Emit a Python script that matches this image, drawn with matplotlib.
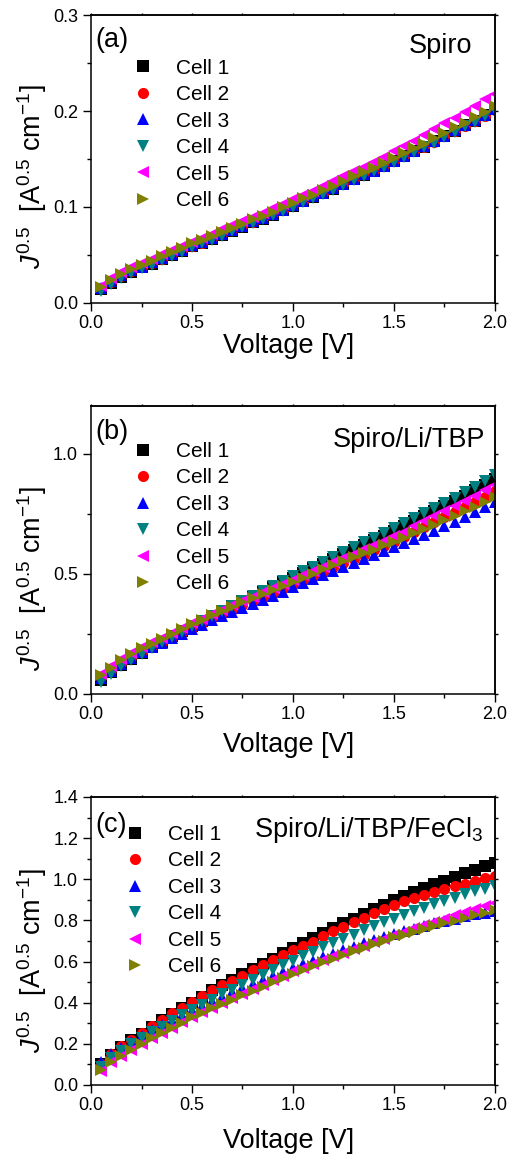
import matplotlib
matplotlib.use("Agg")
import matplotlib.pyplot as plt
from matplotlib.ticker import MultipleLocator

plt.rcParams['font.family'] = ['Liberation Sans', 'DejaVu Sans']
plt.rcParams['mathtext.fontset'] = 'custom'
plt.rcParams['mathtext.rm'] = 'Liberation Sans'
plt.rcParams['mathtext.it'] = 'Liberation Sans:italic'
plt.rcParams['mathtext.bf'] = 'Liberation Sans:bold'

# voltage points [V]
voltage = [0.05, 0.10, 0.15, 0.20, 0.25, 0.30, 0.35, 0.40, 0.45, 0.50,
           0.55, 0.60, 0.65, 0.70, 0.75, 0.80, 0.85, 0.90, 0.95, 1.00,
           1.05, 1.10, 1.15, 1.20, 1.25, 1.30, 1.35, 1.40, 1.45, 1.50,
           1.55, 1.60, 1.65, 1.70, 1.75, 1.80, 1.85, 1.90, 1.95, 2.00]

cell_labels = ["Cell 1", "Cell 2", "Cell 3", "Cell 4", "Cell 5", "Cell 6"]
cell_colors = ["black", "#ff0000", "#0000ff", "#008080", "#ff00ff", "#808000"]
cell_markers = ["s", "o", "^", "v", "<", ">"]

# (a) Spiro
spiro_c1 = [.015, .021, .027, .032, .037, .041, .046, .050, .054, .059,
            .063, .067, .071, .075, .079, .084, .088, .092, .097, .101,
            .106, .110, .115, .119, .124, .129, .133, .138, .143, .148,
            .153, .158, .163, .169, .174, .179, .185, .190, .196, .202]
spiro_c2 = [.016, .022, .028, .033, .038, .042, .046, .051, .055, .059,
            .063, .068, .072, .076, .080, .084, .089, .093, .097, .102,
            .106, .111, .115, .120, .124, .129, .134, .138, .143, .148,
            .153, .158, .163, .168, .174, .179, .184, .190, .195, .201]
spiro_c3 = [.016, .023, .029, .034, .038, .043, .047, .051, .055, .060,
            .064, .068, .072, .076, .080, .085, .089, .093, .097, .102,
            .106, .111, .115, .120, .124, .129, .134, .138, .143, .148,
            .153, .158, .164, .169, .174, .180, .185, .191, .196, .202]
spiro_c4 = [.013, .020, .026, .031, .036, .040, .045, .049, .053, .058,
            .062, .066, .070, .075, .079, .083, .087, .092, .096, .100,
            .105, .109, .114, .118, .123, .128, .132, .137, .142, .147,
            .152, .157, .162, .167, .173, .178, .184, .189, .195, .201]
spiro_c5 = [.018, .026, .032, .037, .042, .046, .051, .055, .059, .064,
            .068, .072, .077, .081, .085, .090, .094, .099, .103, .108,
            .113, .117, .122, .127, .132, .137, .142, .147, .152, .158,
            .164, .169, .175, .181, .187, .193, .199, .205, .212, .218]
spiro_c6 = [.017, .024, .030, .035, .040, .044, .049, .053, .057, .062,
            .066, .070, .074, .078, .082, .087, .091, .095, .100, .104,
            .109, .113, .118, .122, .127, .132, .136, .141, .146, .151,
            .156, .161, .166, .172, .177, .183, .188, .194, .199, .205]

# (b) Spiro/Li/TBP
litbp_c1 = [.060, .092, .120, .146, .172, .195, .218, .240, .262, .283,
            .304, .325, .345, .366, .386, .406, .426, .446, .465, .485,
            .504, .524, .543, .563, .582, .602, .621, .641, .660, .680,
            .700, .720, .740, .761, .782, .803, .825, .848, .872, .897]
litbp_c2 = [.070, .100, .128, .153, .177, .198, .218, .238, .258, .277,
            .296, .315, .333, .351, .369, .387, .404, .422, .440, .457,
            .475, .492, .510, .528, .545, .563, .581, .599, .617, .635,
            .655, .675, .695, .715, .736, .757, .778, .800, .822, .845]
litbp_c3 = [.065, .097, .125, .150, .173, .194, .214, .233, .252, .271,
            .289, .307, .325, .342, .359, .376, .393, .410, .427, .444,
            .461, .478, .494, .511, .528, .544, .561, .578, .594, .611,
            .628, .645, .663, .681, .699, .718, .737, .757, .778, .800]
litbp_c4 = [.050, .085, .115, .142, .168, .192, .215, .238, .260, .282,
            .304, .326, .347, .368, .389, .410, .431, .451, .471, .491,
            .511, .531, .551, .572, .592, .612, .632, .652, .672, .692,
            .712, .733, .754, .775, .796, .818, .840, .863, .887, .912]
litbp_c5 = [.085, .118, .146, .172, .195, .215, .235, .255, .275, .294,
            .313, .332, .350, .369, .387, .405, .423, .441, .459, .477,
            .495, .513, .531, .549, .567, .585, .603, .621, .639, .657,
            .677, .698, .719, .740, .761, .782, .804, .826, .849, .872]
litbp_c6 = [.080, .110, .140, .165, .190, .210, .230, .250, .270, .290,
            .310, .328, .346, .364, .382, .400, .417, .434, .451, .468,
            .485, .502, .519, .536, .553, .569, .586, .602, .619, .635,
            .652, .670, .688, .706, .724, .743, .762, .781, .801, .821]

# (c) Spiro/Li/TBP/FeCl3
fecl_c1 = [.100, .148, .186, .218, .250, .282, .314, .346, .372, .400,
           .430, .460, .486, .512, .538, .563, .589, .614, .640, .667,
           .690, .713, .737, .762, .785, .808, .831, .854, .876, .898,
           .918, .937, .956, .975, .993, 1.011, 1.029, 1.046, 1.063, 1.080]
fecl_c2 = [.104, .152, .188, .220, .253, .285, .318, .350, .374, .402,
           .431, .460, .484, .507, .532, .557, .583, .609, .632, .655,
           .676, .697, .722, .747, .769, .791, .813, .836, .856, .875,
           .892, .909, .923, .937, .952, .966, .978, .990, 1.004, 1.018]
fecl_c3 = [.110, .150, .180, .210, .238, .265, .290, .315, .340, .364,
           .386, .408, .429, .450, .470, .490, .510, .530, .549, .568,
           .587, .605, .622, .639, .656, .672, .688, .704, .719, .734,
           .747, .760, .773, .785, .797, .808, .819, .829, .838, .846]
fecl_c4 = [.085, .130, .165, .198, .228, .256, .284, .310, .338, .366,
           .390, .415, .440, .464, .488, .512, .535, .558, .581, .604,
           .626, .648, .669, .690, .711, .731, .751, .771, .790, .809,
           .827, .845, .862, .879, .895, .911, .926, .941, .955, .968]
fecl_c5 = [.070, .110, .142, .172, .200, .227, .253, .279, .304, .330,
           .353, .376, .399, .421, .443, .465, .487, .509, .531, .553,
           .571, .589, .607, .625, .643, .661, .678, .695, .712, .728,
           .745, .761, .777, .793, .809, .825, .840, .855, .870, .885]
fecl_c6 = [.075, .112, .143, .172, .200, .226, .252, .278, .303, .328,
           .350, .372, .394, .415, .436, .457, .478, .499, .520, .541,
           .560, .578, .596, .614, .632, .650, .667, .684, .701, .717,
           .731, .745, .759, .773, .786, .799, .812, .825, .838, .850]

panels = [
    dict(cells=[spiro_c1, spiro_c2, spiro_c3, spiro_c4, spiro_c5, spiro_c6],
         letter="(a)", name="Spiro", ymax=0.3, ymajor=0.1, yminor=0.05,
         bottom=0.7397, leg=(0.103, 0.848), letter_y=0.89, name_xy=(0.943, 0.868),
         ylab_y=0.44, xlab_y=-0.104),
    dict(cells=[litbp_c1, litbp_c2, litbp_c3, litbp_c4, litbp_c5, litbp_c6],
         letter="(b)", name="Spiro/Li/TBP", ymax=1.2, ymajor=0.5, yminor=0.25,
         bottom=0.4038, leg=(0.103, 0.875), letter_y=0.885, name_xy=(0.975, 0.859),
         ylab_y=0.40, xlab_y=-0.132),
    dict(cells=[fecl_c1, fecl_c2, fecl_c3, fecl_c4, fecl_c5, fecl_c6],
         letter="(c)", name="Spiro/Li/TBP/FeCl$_3$", ymax=1.4, ymajor=0.2, yminor=0.1,
         bottom=0.0679, leg=(0.083, 0.903), letter_y=0.88, name_xy=(0.970, 0.862),
         ylab_y=0.43, xlab_y=-0.149),
]

fig = plt.figure(figsize=(5.07, 11.64), dpi=100)

for p in panels:
    ax = fig.add_axes([0.1795, p["bottom"], 0.7968, 0.2474])
    for y, lab, col, mk in zip(p["cells"], cell_labels, cell_colors, cell_markers):
        ax.plot(voltage, y, linestyle='none', marker=mk, color=col,
                markersize=8, markeredgewidth=0, label=lab)

    ax.set_xlim(0, 2.0)
    ax.set_ylim(0, p["ymax"])
    ax.xaxis.set_major_locator(MultipleLocator(0.5))
    ax.xaxis.set_minor_locator(MultipleLocator(0.25))
    ax.yaxis.set_major_locator(MultipleLocator(p["ymajor"]))
    ax.yaxis.set_minor_locator(MultipleLocator(p["yminor"]))
    ax.tick_params(which='both', direction='out', width=1.0, labelsize=13)
    ax.tick_params(which='major', length=5.8)
    ax.tick_params(which='minor', length=2.9)
    ax.tick_params(axis='x', pad=3)
    ax.tick_params(axis='y', pad=3.5)
    for s in ax.spines.values():
        s.set_linewidth(1.1)

    # short ticks on top and right
    top = ax.secondary_xaxis('top')
    top.xaxis.set_major_locator(MultipleLocator(0.25))
    top.tick_params(direction='out', length=1.8, width=1.0, labeltop=False)
    right = ax.secondary_yaxis('right')
    right.yaxis.set_major_locator(MultipleLocator(p["yminor"]))
    right.tick_params(direction='out', length=1.8, width=1.0, labelright=False)
    top.spines['top'].set_linewidth(1.1)
    right.spines['right'].set_linewidth(1.1)

    ax.set_xlabel("Voltage [V]", fontsize=19.5)
    ax.xaxis.set_label_coords(0.49, p["xlab_y"])
    ax.set_ylabel(r"$J^{0.5}$  [A$^{0.5}$ cm$^{-1}$]", fontsize=19.5)
    ax.yaxis.set_label_coords(-0.105, p["ylab_y"])

    ax.text(0.01, p["letter_y"], p["letter"], transform=ax.transAxes,
            fontsize=19.5, ha='left', va='baseline')
    ax.text(p["name_xy"][0], p["name_xy"][1], p["name"], transform=ax.transAxes,
            fontsize=19.5, ha='right', va='baseline')

    ax.legend(loc='upper left', bbox_to_anchor=p["leg"], frameon=False,
              fontsize=15, handlelength=1.0, handletextpad=1.1,
              labelspacing=0.36, borderpad=0, borderaxespad=0, numpoints=1)

fig.savefig("out.png", dpi=100)
